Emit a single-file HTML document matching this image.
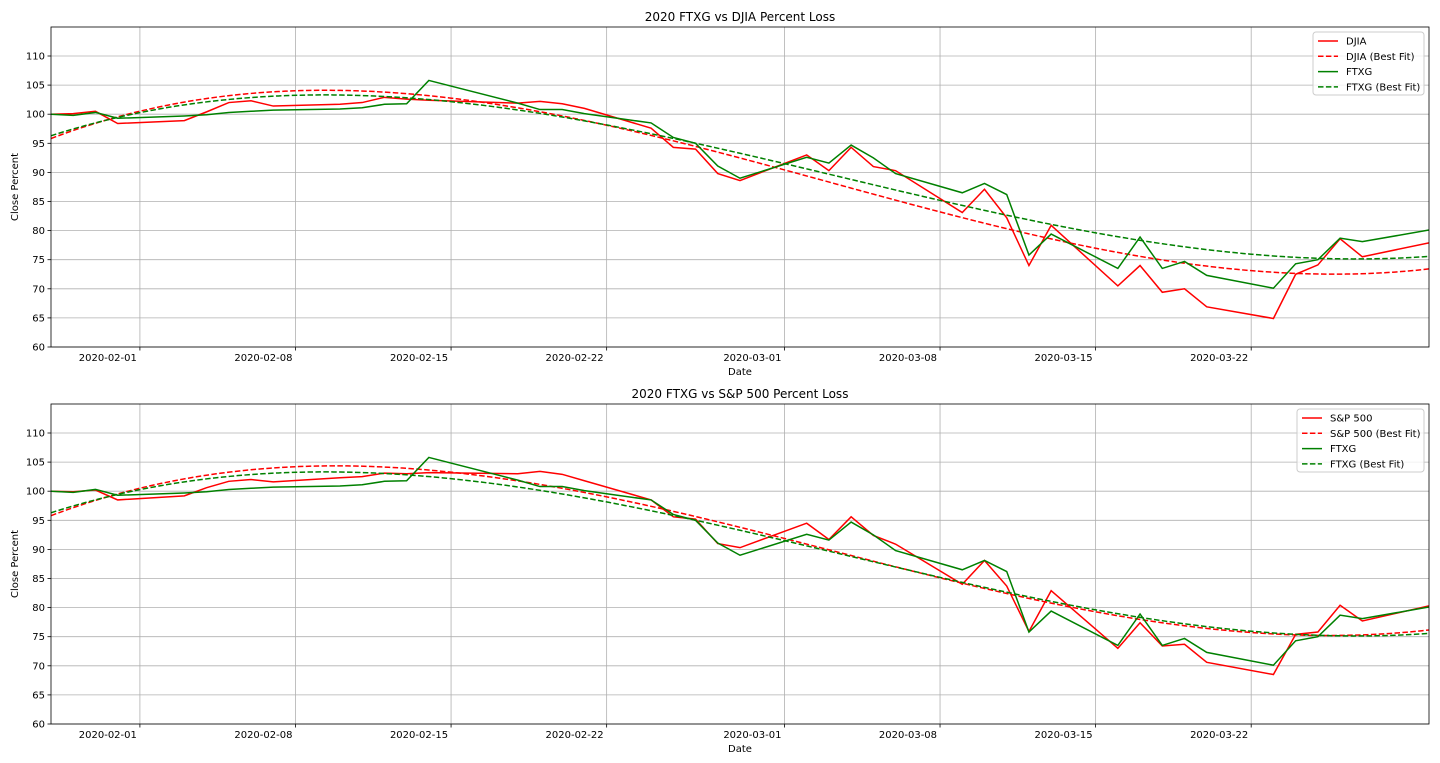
<!DOCTYPE html>
<html><head><meta charset="utf-8"><style>
body{margin:0;background:#fff;font-family:"Liberation Sans",sans-serif}
svg text{font-family:"DejaVu Sans","Liberation Sans",sans-serif}
</style></head><body>
<svg id="svg" width="1440" height="758" xmlns="http://www.w3.org/2000/svg"></svg>
<script>
const dates = ["2020-01-28","2020-01-29","2020-01-30","2020-01-31","2020-02-03","2020-02-04","2020-02-05","2020-02-06","2020-02-07","2020-02-10","2020-02-11","2020-02-12","2020-02-13","2020-02-14","2020-02-18","2020-02-19","2020-02-20","2020-02-21","2020-02-24","2020-02-25","2020-02-26","2020-02-27","2020-02-28","2020-03-02","2020-03-03","2020-03-04","2020-03-05","2020-03-06","2020-03-09","2020-03-10","2020-03-11","2020-03-12","2020-03-13","2020-03-16","2020-03-17","2020-03-18","2020-03-19","2020-03-20","2020-03-23","2020-03-24","2020-03-25","2020-03-26","2020-03-27","2020-03-30"];
const djia = [100,100.1,100.5,98.4,98.9,100.4,102.0,102.3,101.4,101.7,102.0,102.9,102.6,102.4,101.9,102.2,101.8,101.0,97.6,94.3,94.0,89.8,88.6,93.0,90.3,94.3,91.0,90.3,83.1,87.1,82.2,74.0,80.9,70.5,74.0,69.4,70.0,66.9,64.9,72.5,74.1,78.6,75.5,77.9];
const sp500 = [100,99.9,100.2,98.5,99.2,100.6,101.7,102.0,101.6,102.3,102.5,103.1,103.0,103.2,103.0,103.4,102.9,101.8,98.5,95.6,95.2,91.0,90.3,94.5,91.7,95.6,92.4,90.9,84.0,88.1,83.7,75.9,82.9,73.0,77.4,73.4,73.7,70.6,68.5,75.4,75.8,80.4,77.7,80.3];
const ftxg = [100,99.8,100.3,99.3,99.7,99.9,100.3,100.5,100.7,100.9,101.1,101.7,101.8,105.8,101.9,100.8,100.8,100.1,98.5,96.0,95.0,91.1,89.0,92.6,91.6,94.7,92.5,89.8,86.5,88.1,86.2,75.8,79.4,73.5,78.9,73.5,74.7,72.3,70.1,74.3,75.0,78.7,78.1,80.1];
const yTicks = [60,65,70,75,80,85,90,95,100,105,110];
const xTickLabels = ["2020-02-01","2020-02-08","2020-02-15","2020-02-22","2020-03-01","2020-03-08","2020-03-15","2020-03-22"];

const NS="http://www.w3.org/2000/svg";
const svg=document.getElementById('svg');
function mk(tag,attrs,parent){const e=document.createElementNS(NS,tag);for(const k in attrs)e.setAttribute(k,attrs[k]);(parent||svg).appendChild(e);return e;}
const day=d=>Date.parse(d+"T00:00:00Z")/86400000;
const d0=day("2020-01-28"), d1=day("2020-03-30");
const X0=51,X1=1429;
const xS=d=>X0+(day(d)-d0)/(d1-d0)*(X1-X0);

function cubicFit(xs,ys){
  const n=4;const A=[];for(let i=0;i<n;i++){A.push(new Array(n+1).fill(0));}
  for(let k=0;k<xs.length;k++){const p=[1,xs[k],xs[k]**2,xs[k]**3];
    for(let i=0;i<n;i++){for(let j=0;j<n;j++)A[i][j]+=p[i]*p[j];A[i][n]+=p[i]*ys[k];}}
  for(let i=0;i<n;i++){let m=i;for(let r=i+1;r<n;r++)if(Math.abs(A[r][i])>Math.abs(A[m][i]))m=r;[A[i],A[m]]=[A[m],A[i]];
    for(let r=0;r<n;r++){if(r===i)continue;const f=A[r][i]/A[i][i];for(let c=i;c<=n;c++)A[r][c]-=f*A[i][c];}}
  const co=A.map((r,i)=>r[n]/r[i]);
  return x=>co[0]+co[1]*x+co[2]*x*x+co[3]*x*x*x;
}

function panel(top,bottom,title,idxName,idxData,prefix){
  const g=mk('g',{});
  
  
  const ys=v=>bottom-(v-60)*((bottom-(top+29))/50);
  xTickLabels.forEach(t=>{const x=xS(t);
    const l=mk('line',{x1:x,x2:x,y1:top,y2:bottom,stroke:'#b0b0b0','stroke-width':0.8},g);
    
    mk('line',{x1:x,x2:x,y1:bottom,y2:bottom+3.5,stroke:'#000','stroke-width':0.8},g);
    const tx=mk('text',{x:x-3,y:bottom+14,'font-size':10,'text-anchor':'end'},g);tx.textContent=t;
    
  });
  yTicks.forEach(v=>{const y=ys(v);
    const l=mk('line',{x1:X0,x2:X1,y1:y,y2:y,stroke:'#b0b0b0','stroke-width':0.8},g);
    
    mk('line',{x1:X0-3.5,x2:X0,y1:y,y2:y,stroke:'#000','stroke-width':0.8},g);
    const tx=mk('text',{x:X0-6,y:y+3.5,'font-size':10,'text-anchor':'end'},g);tx.textContent=v;
    
  });
  const cp=mk('clipPath',{id:'clip'+prefix},g);mk('rect',{x:X0,y:top,width:X1-X0,height:bottom-top},cp);
  const xs=dates.map(d=>(day(d)-d0)/(d1-d0));
  function line(data,color,name){
    const p=mk('path',{d:data.map((v,i)=>(i?'L':'M')+xS(dates[i]).toFixed(2)+','+ys(v).toFixed(2)).join(''),fill:'none',stroke:color,'stroke-width':1.5,'clip-path':'url(#clip'+prefix+')'},g);
    
  }
  function fit(data,color,name){
    const f=cubicFit(xs,data);const pts=[];
    for(let i=0;i<=200;i++){const t=i/200;pts.push((i?'L':'M')+(X0+t*(X1-X0)).toFixed(2)+','+ys(f(t)).toFixed(2));}
    const p=mk('path',{d:pts.join(''),fill:'none',stroke:color,'stroke-width':1.5,'stroke-dasharray':'5.5,2.4','clip-path':'url(#clip'+prefix+')'},g);
    
  }
  line(idxData,'#ff0000',prefix+'-index-line');
  fit(idxData,'#ff0000',prefix+'-index-fit-line');
  line(ftxg,'#008000',prefix+'-ftxg-line');
  fit(ftxg,'#008000',prefix+'-ftxg-fit-line');
  const fr=mk('rect',{x:X0,y:top,width:X1-X0,height:bottom-top,fill:'none',stroke:'#000','stroke-width':0.8},g);
  
  const tt=mk('text',{x:(X0+X1)/2,y:top-6,'font-size':12,'text-anchor':'middle'},g);tt.textContent=title;
  
  const xl=mk('text',{x:(X0+X1)/2,y:bottom+28,'font-size':10,'text-anchor':'middle'},g);xl.textContent='Date';
  
  const yc=(top+bottom)/2;
  const yl=mk('text',{x:18,y:yc,'font-size':10,'text-anchor':'middle',transform:'rotate(-90 18 '+yc+')'},g);yl.textContent='Close Percent';
  
  const labels=[idxName,idxName+' (Best Fit)','FTXG','FTXG (Best Fit)'];
  const cols=['#ff0000','#ff0000','#008000','#008000'];
  const lw=idxName.length>5?127:111;
  const lx=X1-5-lw, ly=top+5;
  const lg=mk('g',{},g);
  mk('rect',{x:lx,y:ly,width:lw,height:63,rx:3,fill:'#fff','fill-opacity':0.8,stroke:'#ccc','stroke-width':1},lg);
  labels.forEach((t,i)=>{const y=ly+9+i*15.3;
    const e=mk('g',{},lg);
    mk('line',{x1:lx+5,x2:lx+25,y1:y,y2:y,stroke:cols[i],'stroke-width':1.5,'stroke-dasharray':i%2?'5.5,2.4':'none'},e);
    const tx=mk('text',{x:lx+33,y:y+3.5,'font-size':10},e);tx.textContent=t;});
}
panel(27,347,'2020 FTXG vs DJIA Percent Loss','DJIA',djia,'djia');
panel(404,724,'2020 FTXG vs S&P 500 Percent Loss','S&P 500',sp500,'sp500');
</script>
</body></html>
